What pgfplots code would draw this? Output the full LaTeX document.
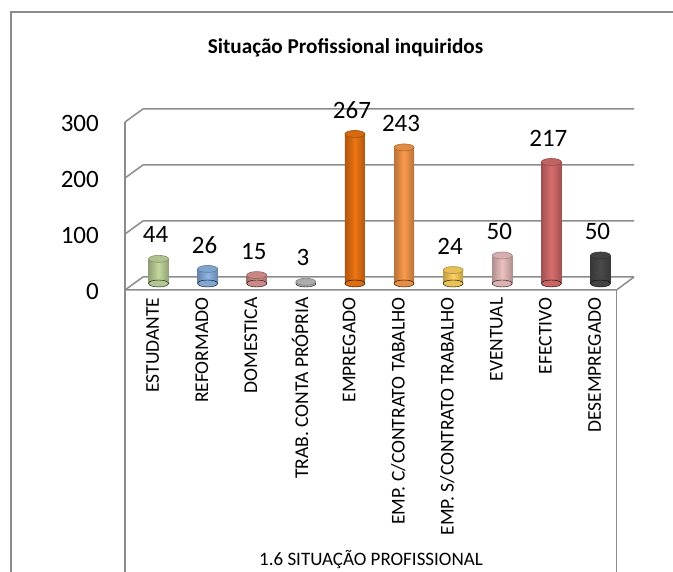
\documentclass[border=0pt]{standalone}
\usepackage{fontspec}
\setmainfont{Carlito}
\usepackage{pgfplots}
\pgfplotsset{compat=1.18}
\definecolor{cgreen}{HTML}{C4D89D}
\definecolor{cblue}{HTML}{8DB6E6}
\definecolor{cdom}{HTML}{DC9694}
\definecolor{cgray}{HTML}{BFBFBF}
\definecolor{corange}{HTML}{EE7512}
\definecolor{clorange}{HTML}{FA9A4A}
\definecolor{cyellow}{HTML}{FFD35E}
\definecolor{cpink}{HTML}{EDC1C0}
\definecolor{cred}{HTML}{D86E6E}
\definecolor{cdark}{HTML}{4A4A4A}
\definecolor{gridc}{HTML}{8C8C8C}
\newcommand{\cyl}[3]{%
 \addplot[only marks, mark=*, mark size=10pt, mark options={yscale=0.35, fill=#3!92!black, draw=none}] coordinates {(#1,0)};
 \addplot[ybar, bar width=20pt, bar shift=0pt, draw=none, left color=#3!74!black, right color=#3!74!black, middle color=#3] coordinates {(#1,#2)};
 \addplot[only marks, mark=*, mark size=10pt, mark options={yscale=0.35, fill=#3!90!black, draw=#3!68!black, line width=0.6pt},
   nodes near coords, nodes near coords style={font=\fontsize{25}{25}\selectfont, anchor=center, yshift=24pt, xshift=-3pt, text=black}] coordinates {(#1,#2)};
}
\begin{document}
\begin{tikzpicture}[x=1pt,y=1pt]
\useasboundingbox (0,0) rectangle (673,572);
% outer frame
\draw[gridc, line width=1.3pt] (11,-20) -- (11,560) -- (700,560);
% walls and gridlines
\begin{scope}[gridc, line width=1.5pt]
\foreach \v in {0,100,200,300}{
  \pgfmathsetmacro{\yb}{295+0.56*\v}
  \pgfmathsetmacro{\yf}{282+0.56*\v}
  \draw (125,\yf) -- (143,\yb) -- (634,\yb);
}
\draw (125,-20) -- (125,450);
\draw (125,282) -- (616.5,282) -- (634,295);
\draw (616.5,-20) -- (616.5,282);
\end{scope}
\node[font=\fontsize{21.2}{21.2}\selectfont\bfseries] at (345.5,524.5) {Situação Profissional inquiridos};
\node[font=\fontsize{19}{19}\selectfont] at (371,12) {1.6 SITUAÇÃO PROFISSIONAL};
\begin{axis}[
  at={(134pt,288.5pt)}, anchor=south west,
  scale only axis, width=491pt, height=168pt,
  xmin=-0.5, xmax=9.5, ymin=0, ymax=300,
  clip=false,
  axis line style={draw=none}, tick style={draw=none}, major tick length=0pt,
  /pgf/number format/assume math mode=true,
  ytick={0,100,200,300},
  yticklabel style={font=\fontsize{25}{25}\selectfont, anchor=east, inner sep=0pt, yshift=-7.5pt},
  yticklabel shift=35pt,
  xtick={-0.12,0.88,1.88,2.88,3.88,4.88,5.88,6.88,7.88,8.88},
  xticklabels={ESTUDANTE,REFORMADO,DOMESTICA,TRAB. CONTA PRÓPRIA,EMPREGADO,EMP. C/CONTRATO TABALHO,EMP. S/CONTRATO TRABALHO,EVENTUAL,EFECTIVO,DESEMPREGADO},
  xticklabel style={rotate=90, anchor=east, inner sep=0pt, font=\fontsize{19.5}{19.5}\selectfont},
  xticklabel shift=14pt,
]
\cyl{0}{44}{cgreen}
\cyl{1}{26}{cblue}
\cyl{2}{15}{cdom}
\cyl{3}{3}{cgray}
\cyl{4}{267}{corange}
\cyl{5}{243}{clorange}
\cyl{6}{24}{cyellow}
\cyl{7}{50}{cpink}
\cyl{8}{217}{cred}
\cyl{9}{50}{cdark}
\end{axis}
\end{tikzpicture}
\end{document}
